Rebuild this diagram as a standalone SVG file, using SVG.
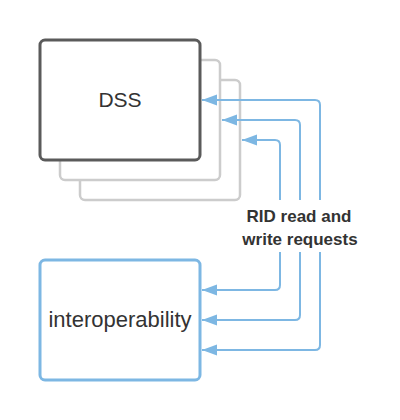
<svg xmlns="http://www.w3.org/2000/svg" width="400" height="420" viewBox="0 0 400 420">
<defs>
<style>
.shadow{fill:#fff;stroke:#cccccc;stroke-width:2.5}
.main{fill:#fff;stroke:#5a5a5a;stroke-width:3}
.blue{fill:#fff;stroke:#7db7e3;stroke-width:3}
.conn{fill:none;stroke:#7db7e3;stroke-width:2}
.t{font-family:"Liberation Sans",Arial,sans-serif;fill:#333}
.lbl{font-family:"Liberation Sans",Arial,sans-serif;font-weight:bold;fill:#333;font-size:17px}
</style>
<marker id="arr" markerWidth="16" markerHeight="12" refX="15" refY="5.5" orient="auto" markerUnits="userSpaceOnUse">
<path d="M0,0 L15,5.5 L0,11 Z" fill="#7db7e3"/>
</marker>
</defs>
<rect width="400" height="420" fill="#fff"/>
<g id="dss">
<rect class="shadow" x="80" y="80" width="160" height="120" rx="5"/>
<rect class="shadow" x="60" y="60" width="160" height="120" rx="5"/>
<rect class="main" x="40" y="40" width="160" height="120" rx="5"/>
<text class="t" x="120" y="107" font-size="21" text-anchor="middle">DSS</text>
</g>
<g id="interoperability">
<rect class="blue" x="40" y="260" width="160" height="120" rx="5"/>
<text class="t" x="120" y="327" font-size="22" text-anchor="middle">interoperability</text>
</g>
<g id="connectors">
<path class="conn" d="M280,200 V145 Q280,140 275,140 H242" marker-end="url(#arr)"/>
<path class="conn" d="M300,200 V125 Q300,120 295,120 H222" marker-end="url(#arr)"/>
<path class="conn" d="M320,200 V105 Q320,100 315,100 H202" marker-end="url(#arr)"/>
<path class="conn" d="M280,252 V285 Q280,290 275,290 H202" marker-end="url(#arr)"/>
<path class="conn" d="M300,252 V315 Q300,320 295,320 H202" marker-end="url(#arr)"/>
<path class="conn" d="M320,252 V345 Q320,350 315,350 H202" marker-end="url(#arr)"/>
</g>
<g id="label">
<text class="lbl" x="299" y="222" text-anchor="middle">RID read and</text>
<text class="lbl" x="300" y="245" text-anchor="middle">write requests</text>
</g>
</svg>
